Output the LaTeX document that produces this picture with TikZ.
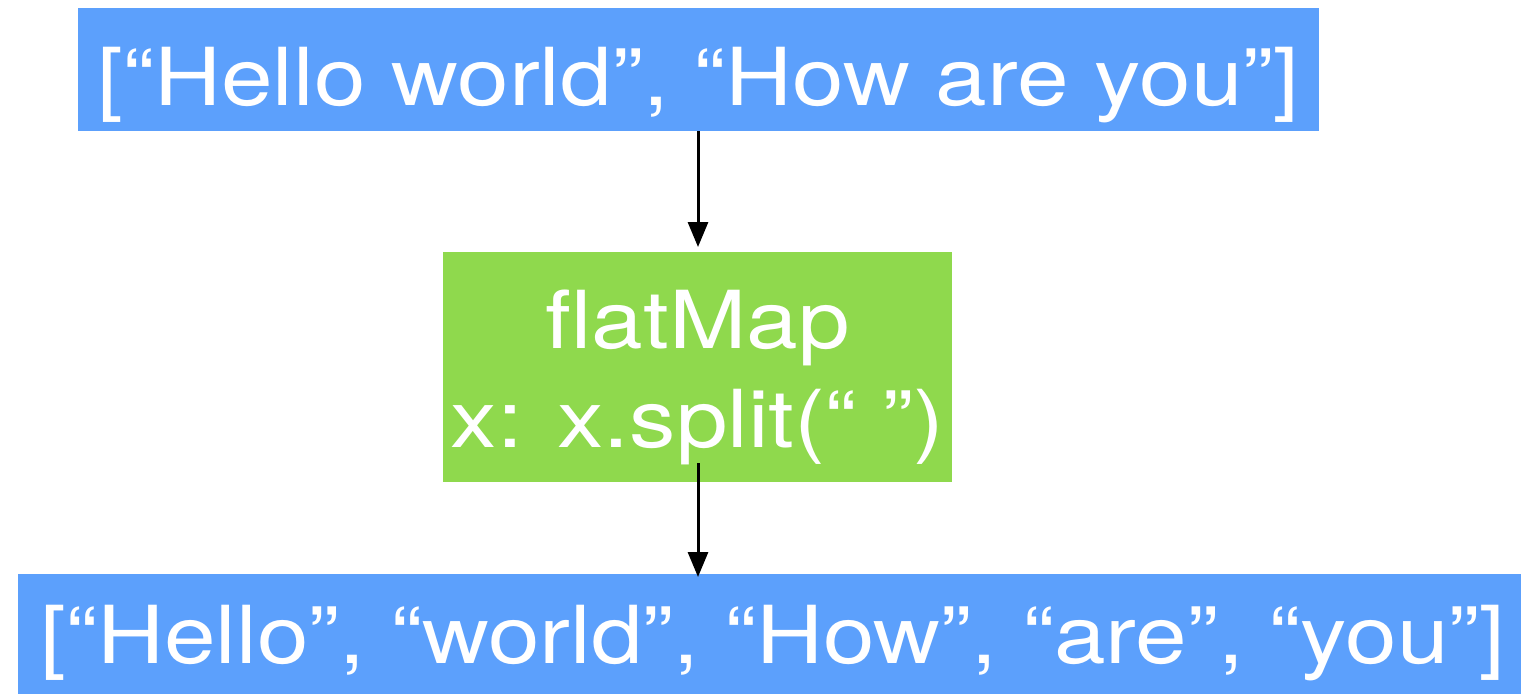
\documentclass[tikz,border=0pt]{standalone}
\usepackage{fontspec}
\setmainfont{TeX Gyre Heros}[FakeStretch=1.16]
\usetikzlibrary{arrows.meta}
\definecolor{boxblue}{HTML}{5CA0FC}
\definecolor{boxgreen}{HTML}{8FD94D}
\tikzset{
  box/.style={fill=#1, draw=none, text=white, inner sep=0pt, outer sep=0pt,
    font=\fontsize{40}{49.5}\selectfont},
  conn/.style={line width=1.5pt, -{Triangle[width=10pt,length=12.5pt]}}
}
\begin{document}
\begin{tikzpicture}[x=0.5pt,y=-0.5pt]
\useasboundingbox (0,0) rectangle (1521,693);
\clip (0,0) rectangle (1521,693);
\node[box=boxblue, minimum width=620.5pt, minimum height=61.5pt,
  text height=40pt, text depth=4.5pt] (top) at (698.5,69.5)
  {[“Hello world”, “How are you”]};
\node[box=boxgreen, minimum width=254.5pt, minimum height=115pt,
  align=center, text height=88pt, text depth=8pt] (map) at (697.5,367)
  {flatMap\\x: x.split(“ ”)};
\node[box=boxblue, minimum width=755pt, minimum height=65.5pt,
  text height=30pt, text depth=6.5pt] (bot) at (773,639.5)
  {[“Hello”, “world”, “How”, “are”, “you”]};
\coordinate (s1) at (698,131);
\coordinate (s2) at (698,463);
\draw[conn, shorten >=2.5pt] (s1) -- (s1 |- map.north);
\draw[conn, shorten >=-1.5pt] (s2) -- (s2 |- bot.north);
\end{tikzpicture}
\end{document}
